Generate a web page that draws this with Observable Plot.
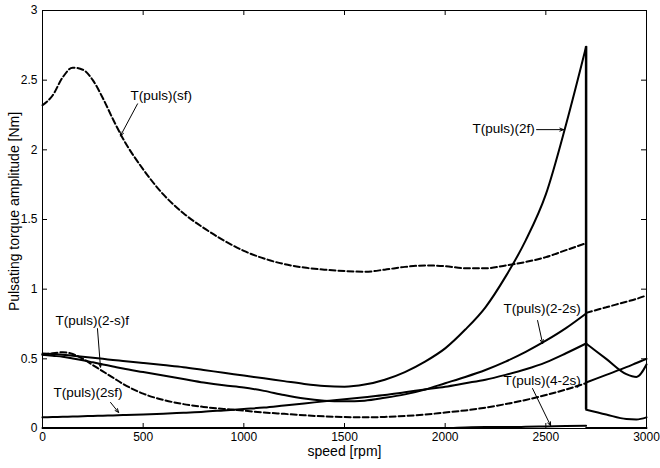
<!DOCTYPE html>
<html><head><meta charset="utf-8">
<script src="https://cdn.jsdelivr.net/npm/d3@7"></script>
<script src="https://cdn.jsdelivr.net/npm/@observablehq/plot@0.6"></script>
<style>body{margin:0;background:#fff} svg{display:block}</style>
</head><body><div id="chart"></div>
<script>
// speed grid (rpm) before the 2700 rpm discontinuity
const speed = [0,50,100,150,200,250,300,350,400,500,600,700,800,900,1000,1100,1200,1300,1400,1500,1600,1700,1800,1900,2000,2100,2200,2300,2400,2500,2600,2700];
const tSf   = [2.32,2.39,2.52,2.59,2.575,2.50,2.37,2.22,2.08,1.86,1.68,1.545,1.44,1.35,1.275,1.22,1.18,1.155,1.14,1.13,1.125,1.14,1.16,1.17,1.165,1.15,1.15,1.17,1.195,1.23,1.28,1.33];
const t2f   = [0.538,0.534,0.53,0.522,0.515,0.507,0.50,0.492,0.485,0.47,0.455,0.44,0.42,0.40,0.38,0.36,0.34,0.32,0.305,0.30,0.315,0.35,0.405,0.48,0.575,0.71,0.87,1.09,1.35,1.68,2.18,2.74];
const t2sF  = [0.53,0.522,0.515,0.503,0.49,0.475,0.46,0.445,0.43,0.405,0.38,0.355,0.33,0.31,0.295,0.27,0.24,0.215,0.20,0.195,0.20,0.22,0.245,0.28,0.325,0.37,0.42,0.48,0.55,0.63,0.72,0.825];
const t2Sf  = [0.08,0.082,0.084,0.086,0.088,0.09,0.092,0.094,0.096,0.10,0.106,0.113,0.12,0.13,0.14,0.15,0.165,0.18,0.195,0.21,0.225,0.24,0.26,0.28,0.30,0.325,0.35,0.385,0.425,0.475,0.54,0.61];
const t2sfD = [0.53,0.54,0.547,0.535,0.50,0.455,0.41,0.365,0.32,0.25,0.205,0.175,0.155,0.14,0.128,0.115,0.105,0.095,0.087,0.082,0.08,0.083,0.09,0.10,0.115,0.13,0.15,0.175,0.205,0.24,0.28,0.325];
const t42s  = [0.004,0.004,0.004,0.004,0.004,0.004,0.004,0.004,0.004,0.004,0.004,0.004,0.004,0.004,0.004,0.004,0.004,0.004,0.004,0.004,0.004,0.004,0.004,0.004,0.004,0.008,0.01,0.01,0.012,0.015,0.018,0.02];

// speed grid after the discontinuity
const speedPost = [2700,2800,2900,2950,3000];
const tSfPost   = [0.83,0.87,0.91,0.93,0.955];
const t2fPost   = [0.135,0.10,0.068,0.065,0.08];
const t2SfPost  = [0.61,0.50,0.39,0.37,0.46];
const t2sfPost  = [0.33,0.385,0.44,0.47,0.50];
const t42sPost  = [0.003,0.003,0.003,0.003,0.003];

const xTicks = [0,500,1000,1500,2000,2500,3000];
const yTicks = [0,0.5,1,1.5,2,2.5,3];
const xTitle = "speed [rpm]";
const yTitle = "Pulsating torque amplitude [Nm]";

const labelText = ["T(puls)(sf)","T(puls)(2f)","T(puls)(2-s)f","T(puls)(2sf)","T(puls)(2-2s)","T(puls)(4-2s)"];
const labelX    = [437, 2136, 65, 55, 2290, 2290];
const labelY    = [2.39, 2.15, 0.775, 0.258, 0.86, 0.344];
const arrowX1   = [472, 2454, 273, 338, 2459, 2434];
const arrowY1   = [2.33, 2.145, 0.717, 0.187, 0.775, 0.287];
const arrowX2   = [387, 2588, 288, 378, 2484, 2524];
const arrowY2   = [2.10, 2.145, 0.44, 0.115, 0.61, 0.02];

const series = [
  {key:"sf", xs:speed, ys:tSf, dashed:true},
  {key:"2f", xs:speed, ys:t2f, dashed:false},
  {key:"2-s f", xs:speed, ys:t2sF, dashed:false},
  {key:"2-2s", xs:speed, ys:t2Sf, dashed:false},
  {key:"2sf", xs:speed, ys:t2sfD, dashed:true},
  {key:"4-2s", xs:speed, ys:t42s, dashed:false},
  {key:"sf post", xs:speedPost, ys:tSfPost, dashed:true},
  {key:"2f post", xs:speedPost, ys:t2fPost, dashed:false},
  {key:"2-2s post", xs:speedPost, ys:t2SfPost, dashed:false},
  {key:"2sf post", xs:speedPost, ys:t2sfPost, dashed:false},
  {key:"4-2s post", xs:speedPost, ys:t42sPost, dashed:false}
];
const rows = series.flatMap(s => s.xs.map((x,i) => ({key:s.key, speed:x, torque:s.ys[i], dashed:s.dashed})));
const jump = [{speed: speed[speed.length-1], from: t2f[t2f.length-1], to: t2fPost[0]}];
const notes = labelText.map((t,i) => ({text:t, x:labelX[i], y:labelY[i], x1:arrowX1[i], y1:arrowY1[i], x2:arrowX2[i], y2:arrowY2[i]}));

const W=660, H=468, mL=42, mR=14, mT=10, mB=40;
const innerW = W-mL-mR, innerH = H-mT-mB;
const fmt = d => String(d);

const chart = Plot.plot({
  width: W, height: H, marginLeft: mL, marginRight: mR, marginTop: mT, marginBottom: mB,
  style: {fontFamily: "'Liberation Sans', Arial, Helvetica, sans-serif", fontSize: "12px", background: "#fff", color: "#000"},
  x: {domain: [0, 3000]},
  y: {domain: [0, 3]},
  marks: [
    Plot.line(rows.filter(r => !r.dashed), {x: "speed", y: "torque", z: "key", stroke: "#000", strokeWidth: 2, curve: "monotone-x"}),
    Plot.line(rows.filter(r => r.dashed), {x: "speed", y: "torque", z: "key", stroke: "#000", strokeWidth: 2, strokeDasharray: "6,3", curve: "monotone-x"}),
    Plot.ruleX(jump, {x: "speed", y1: "from", y2: "to", stroke: "#000", strokeWidth: 2.5}),
    Plot.tickX(xTicks, {x: d => d, insetTop: innerH - 5, stroke: "#000"}),
    Plot.tickX(xTicks, {x: d => d, insetBottom: innerH - 5, stroke: "#000"}),
    Plot.tickY(yTicks, {y: d => d, insetRight: innerW - 5, stroke: "#000"}),
    Plot.tickY(yTicks, {y: d => d, insetLeft: innerW - 5, stroke: "#000"}),
    Plot.frame({stroke: "#000"}),
    Plot.axisX(xTicks, {tickSize: 0, tickPadding: 4, tickFormat: fmt, label: null, fontSize: 12}),
    Plot.axisY(yTicks, {tickSize: 0, tickPadding: 5, tickFormat: fmt, label: null, fontSize: 12}),
    Plot.text([xTitle], {frameAnchor: "bottom", dy: 27, fontSize: 14}),
    Plot.text([yTitle], {frameAnchor: "left", textAnchor: "middle", rotate: -90, dx: -28, dy: -8, fontSize: 14}),
    Plot.arrow(notes, {x1: "x1", y1: "y1", x2: "x2", y2: "y2", stroke: "#000", strokeWidth: 1, headLength: 6, headAngle: 45}),
    Plot.text(notes, {x: "x", y: "y", text: "text", textAnchor: "start", fontSize: 13.5})
  ]
});
document.getElementById("chart").append(chart);
</script>
</body></html>
